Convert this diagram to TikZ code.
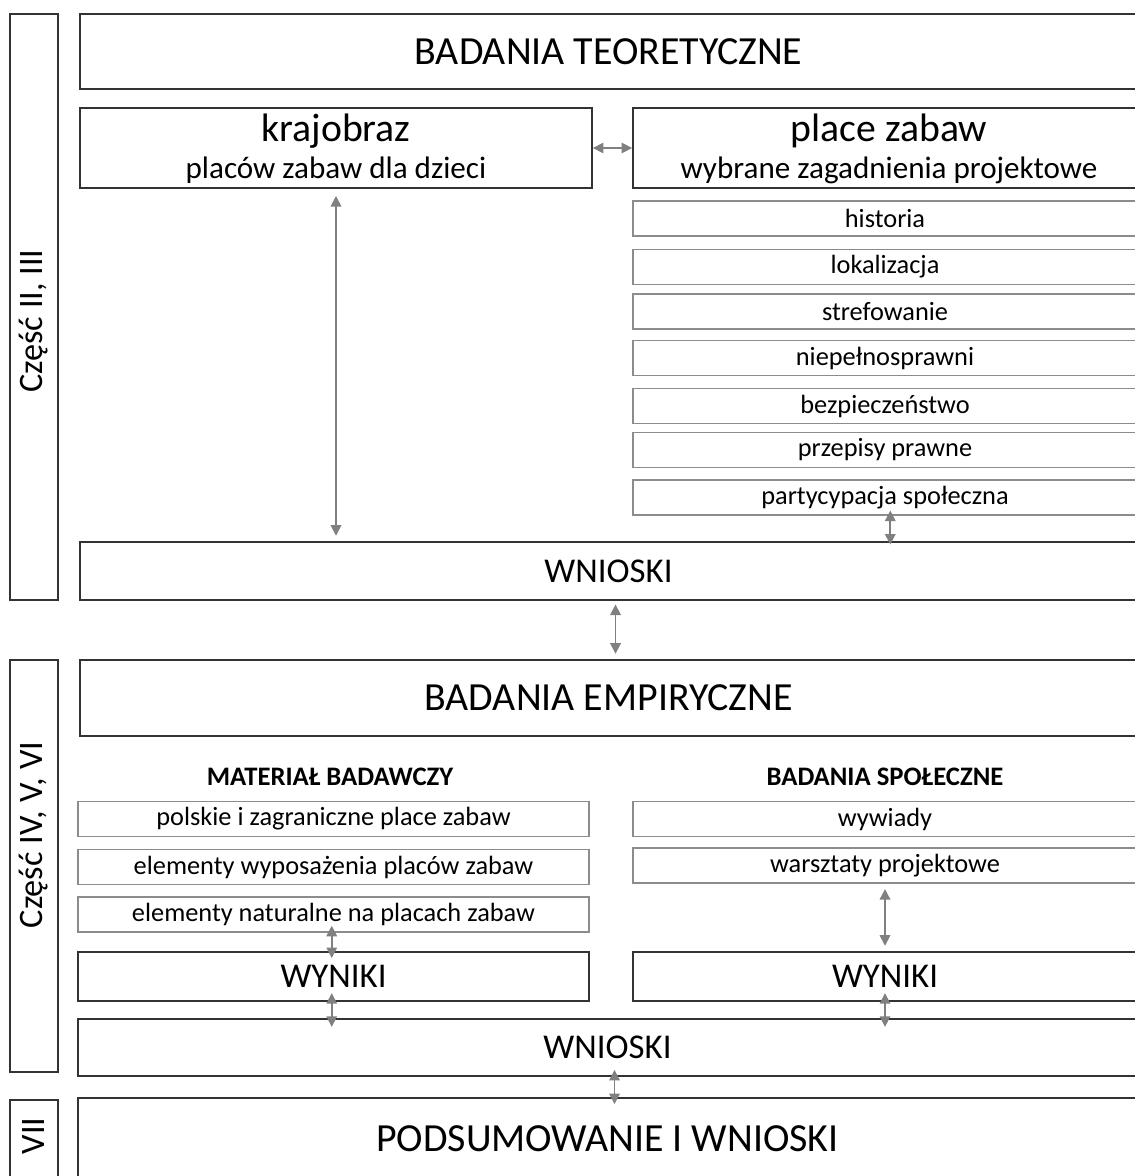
\documentclass[tikz,border=0pt]{standalone}
\usepackage{fontspec}
\setmainfont{Carlito}
\usepackage{tikz}
\usetikzlibrary{positioning, arrows.meta}

\begin{document}
\begin{tikzpicture}[x=0.02cm, y=-0.02cm,
    big/.style={draw=black!80, line width=1.1pt, inner sep=0pt, font=\fontsize{19.8}{22}\selectfont},
    small/.style={draw=black!45, line width=0.9pt, inner sep=0pt, minimum height=0.7cm, font=\fontsize{15}{17}\selectfont},
    part/.style={draw=black!80, line width=1.1pt, inner sep=0pt, minimum width=0.96cm},
    partlabel/.style={rotate=90, font=\fontsize{19.5}{22}\selectfont},
    title/.style={font=\fontsize{22.7}{25}\selectfont},
    head/.style={font=\bfseries\fontsize{15.2}{17}\selectfont},
    sub/.style={align=center, inner sep=0pt, font=\fontsize{17.7}{21}\selectfont},
    arr/.style={<->, >={Triangle[length=6pt, width=6pt]}, draw=black!50, line width=0.9pt}]
    \useasboundingbox (0,0) rectangle (1135,1176);
    % side bars
    \node[part, minimum height=11.72cm] (partA) at (34,307) {};
    \node[partlabel] (labA) at (34,321) {Część II, III};
    \node[part, minimum height=8.24cm] (partB) at (34,866) {};
    \node[partlabel] (labB) at (34,835) {Część IV, V, VI};
    \node[part, minimum height=1.58cm] (partC) at (34,1139.5) {};
    \node[partlabel] (labC) at (34,1136) {VII};
    % theoretical part
    \node[big, title, minimum width=21.14cm, minimum height=1.5cm] (teo) at (608.5,51.5) {BADANIA TEORETYCZNE};
    \node[big, minimum width=10.24cm, minimum height=1.6cm] (kraj) at (336,148) {};
    \node[sub] (krajT) at (336,148.5)
        {{\fontsize{22.6}{21}\selectfont krajobraz}\\placów zabaw dla dzieci};
    \node[big, minimum width=10.08cm, minimum height=1.6cm] (place) at (885,148) {};
    \node[sub] (placeT) at (889,148.5)
        {{\fontsize{22.6}{21}\selectfont place zabaw}\\wybrane zagadnienia projektowe};
    \node[small, minimum width=10.08cm] (hist) at (885,218.5) {historia};
    \node[small, minimum width=10.08cm] (lok) at (885,267) {lokalizacja};
    \node[small, minimum width=10.08cm] (stref) at (885,311.5) {strefowanie};
    \node[small, minimum width=10.08cm] (niep) at (885,358) {niepełnosprawni};
    \node[small, minimum width=10.08cm] (bezp) at (885,406) {bezpieczeństwo};
    \node[small, minimum width=10.08cm] (przep) at (885,450) {przepisy prawne};
    \node[small, minimum width=10.08cm] (party) at (885,497.5) {partycypacja społeczna};
    \node[big, minimum width=21.14cm, minimum height=1.16cm] (wn1) at (608.5,571) {WNIOSKI};
    % empirical part
    \node[big, title, minimum width=21.14cm, minimum height=1.52cm] (emp) at (608.5,698) {BADANIA EMPIRYCZNE};
    \node[head] (mat) at (330,777) {MATERIAŁ BADAWCZY};
    \node[head] (spol) at (885,777) {BADANIA SPOŁECZNE};
    \node[small, minimum width=10.22cm] (pol) at (333.5,819) {polskie i zagraniczne place zabaw};
    \node[small, minimum width=10.22cm] (wyp) at (333.5,867) {elementy wyposażenia placów zabaw};
    \node[small, minimum width=10.22cm] (nat) at (333.5,914.5) {elementy naturalne na placach zabaw};
    \node[small, minimum width=10.08cm] (wyw) at (885,819) {wywiady};
    \node[small, minimum width=10.08cm] (warsz) at (885,865.5) {warsztaty projektowe};
    \node[big, minimum width=10.22cm, minimum height=0.98cm] (wynL) at (333.5,976.5) {WYNIKI};
    \node[big, minimum width=10.08cm, minimum height=0.98cm] (wynR) at (885,976.5) {WYNIKI};
    \node[big, minimum width=21.18cm, minimum height=1.14cm] (wn2) at (607.5,1047.5) {WNIOSKI};
    \node[big, title, minimum width=21.18cm, minimum height=1.62cm] (pods) at (607.5,1138.5) {PODSUMOWANIE I WNIOSKI};
    % arrows
    \draw[arr] (kraj) -- (place);
    \draw[arr, shorten <=4pt, shorten >=3pt] (kraj.south) -- (kraj.south |- wn1.north);
    \draw[arr, shorten <=-3pt, shorten >=-2pt] ([xshift=3pt]party.south) -- ([xshift=3pt]party.south |- wn1.north);
    \draw[arr, shorten <=2pt, shorten >=3pt] ([xshift=4pt]wn1.south) -- ([xshift=4pt]emp.north);
    \draw[arr, shorten <=-4pt, shorten >=-4pt] ([xshift=-1pt]nat.south) -- ([xshift=-1pt]wynL.north);
    \draw[arr, shorten <=3pt, shorten >=3pt] (warsz.south) -- (wynR.north);
    \draw[arr, shorten <=-5pt, shorten >=-5pt] ([xshift=-1pt]wynL.south) -- ([xshift=-1pt]wynL.south |- wn2.north);
    \draw[arr, shorten <=-5pt, shorten >=-5pt] (wynR.south) -- (wynR.south |- wn2.north);
    \draw[arr, shorten <=-4pt, shorten >=-4pt] ([xshift=4pt]wn2.south) -- ([xshift=4pt]wn2.south |- pods.north);
\end{tikzpicture}
\end{document}
